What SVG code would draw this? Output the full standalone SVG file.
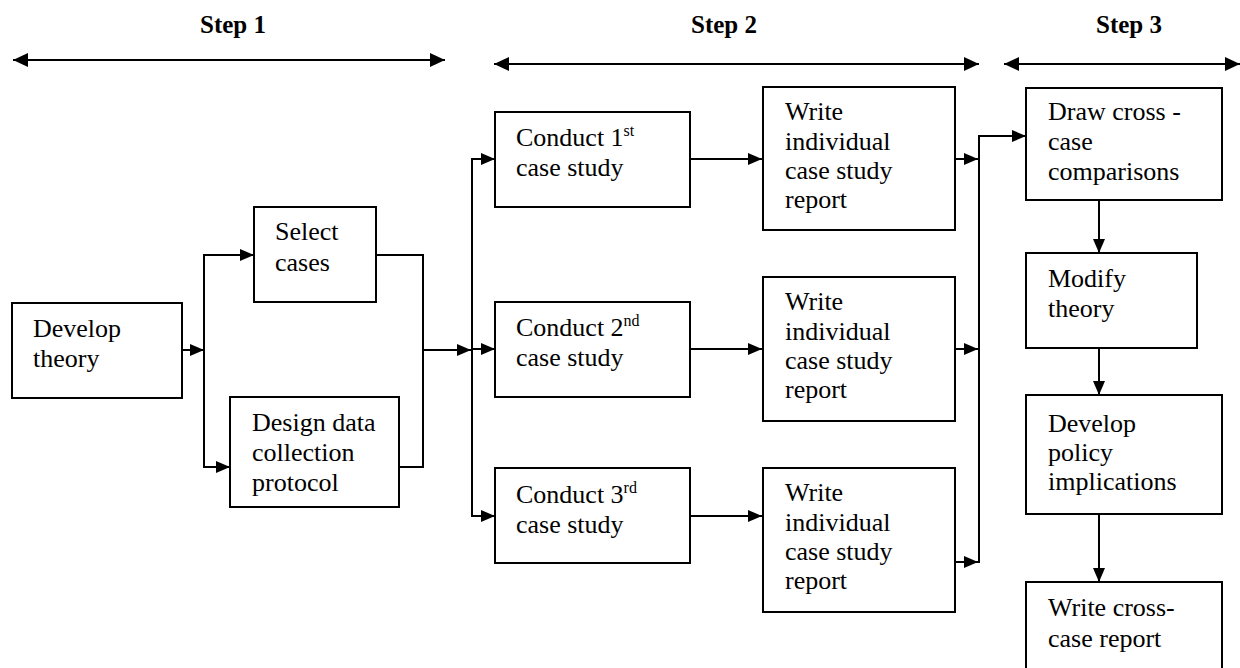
<svg xmlns="http://www.w3.org/2000/svg" width="1240" height="668" viewBox="0 0 1240 668">
<defs>
<marker id="ah" markerUnits="userSpaceOnUse" markerWidth="15" markerHeight="13" refX="14" refY="6" orient="auto-start-reverse">
<path d="M0,0 L14,6 L0,12 z" fill="#000"/>
</marker>
<marker id="ahs" markerUnits="userSpaceOnUse" markerWidth="16" markerHeight="15" refX="15" refY="7" orient="auto-start-reverse">
<path d="M0,0 L15,7 L0,14 z" fill="#000"/>
</marker>
</defs>
<style>
.box{fill:#fff;stroke:#000;stroke-width:2}
.t{font-family:"Liberation Serif","Times New Roman",serif;font-size:26px;fill:#000}
.h{font-family:"Liberation Serif","Times New Roman",serif;font-size:25px;font-weight:bold;fill:#000;text-anchor:middle}
.sup{font-size:16px}
.ln{fill:none;stroke:#000;stroke-width:2}
.ar{fill:none;stroke:#000;stroke-width:2;marker-end:url(#ah)}
.st{fill:none;stroke:#000;stroke-width:2;marker-start:url(#ahs);marker-end:url(#ahs)}
</style>
<rect width="1240" height="668" fill="#fff"/>
<g id="headers">
<text class="h" x="233" y="33">Step 1</text>
<text class="h" x="724" y="33">Step 2</text>
<text class="h" x="1129" y="33">Step 3</text>
<line class="st" x1="13" y1="60" x2="445" y2="60"/>
<line class="st" x1="494" y1="64" x2="979" y2="64"/>
<line class="st" x1="1004" y1="64" x2="1240" y2="64"/>
</g>
<g id="connectors">
<line class="ar" x1="182" y1="350" x2="204" y2="350"/>
<line class="ln" x1="204" y1="255" x2="204" y2="467"/>
<line class="ar" x1="203" y1="255" x2="254" y2="255"/>
<line class="ar" x1="203" y1="467" x2="230" y2="467"/>
<polyline class="ln" points="376,255 423,255 423,467 399,467"/>
<line class="ar" x1="423" y1="350" x2="471" y2="350"/>
<line class="ln" x1="472" y1="159" x2="472" y2="516"/>
<line class="ar" x1="471" y1="159" x2="495" y2="159"/>
<line class="ar" x1="471" y1="349" x2="495" y2="349"/>
<line class="ar" x1="471" y1="516" x2="495" y2="516"/>
<line class="ar" x1="690" y1="159" x2="762" y2="159"/>
<line class="ar" x1="690" y1="349" x2="762" y2="349"/>
<line class="ar" x1="690" y1="516" x2="762" y2="516"/>
<line class="ar" x1="955" y1="159" x2="978" y2="159"/>
<line class="ar" x1="955" y1="349" x2="978" y2="349"/>
<line class="ar" x1="955" y1="562" x2="978" y2="562"/>
<line class="ln" x1="979" y1="136" x2="979" y2="563"/>
<line class="ar" x1="978" y1="136" x2="1026" y2="136"/>
<line class="ar" x1="1099" y1="200" x2="1099" y2="253"/>
<line class="ar" x1="1099" y1="348" x2="1099" y2="395"/>
<line class="ar" x1="1099" y1="514" x2="1099" y2="582"/>
</g>
<g id="develop-theory">
<rect class="box" x="12" y="303" width="170" height="95"/>
<text class="t" x="33" y="337">Develop</text>
<text class="t" x="33" y="367">theory</text>
</g>
<g id="select-cases">
<rect class="box" x="254" y="207" width="122" height="95"/>
<text class="t" x="275" y="240">Select</text>
<text class="t" x="275" y="271">cases</text>
</g>
<g id="design-protocol">
<rect class="box" x="230" y="397" width="169" height="110"/>
<text class="t" x="252" y="431">Design data</text>
<text class="t" x="252" y="461">collection</text>
<text class="t" x="252" y="491">protocol</text>
</g>
<g id="conduct-1">
<rect class="box" x="495" y="112" width="195" height="95"/>
<text class="t" x="516" y="146">Conduct 1<tspan class="sup" dy="-10">st</tspan></text>
<text class="t" x="516" y="176">case study</text>
</g>
<g id="conduct-2">
<rect class="box" x="495" y="302" width="195" height="95"/>
<text class="t" x="516" y="336">Conduct 2<tspan class="sup" dy="-10">nd</tspan></text>
<text class="t" x="516" y="366">case study</text>
</g>
<g id="conduct-3">
<rect class="box" x="495" y="468" width="195" height="95"/>
<text class="t" x="516" y="503">Conduct 3<tspan class="sup" dy="-10">rd</tspan></text>
<text class="t" x="516" y="533">case study</text>
</g>
<g id="write-1">
<rect class="box" x="763" y="87" width="192" height="143"/>
<text class="t" x="785" y="120">Write</text>
<text class="t" x="785" y="150">individual</text>
<text class="t" x="785" y="179">case study</text>
<text class="t" x="785" y="208">report</text>
</g>
<g id="write-2">
<rect class="box" x="763" y="277" width="192" height="144"/>
<text class="t" x="785" y="310">Write</text>
<text class="t" x="785" y="340">individual</text>
<text class="t" x="785" y="369">case study</text>
<text class="t" x="785" y="398">report</text>
</g>
<g id="write-3">
<rect class="box" x="763" y="468" width="192" height="144"/>
<text class="t" x="785" y="501">Write</text>
<text class="t" x="785" y="531">individual</text>
<text class="t" x="785" y="560">case study</text>
<text class="t" x="785" y="589">report</text>
</g>
<g id="draw-cross">
<rect class="box" x="1026" y="88" width="196" height="112"/>
<text class="t" x="1048" y="120">Draw cross -</text>
<text class="t" x="1048" y="150">case</text>
<text class="t" x="1048" y="180">comparisons</text>
</g>
<g id="modify-theory">
<rect class="box" x="1026" y="253" width="171" height="95"/>
<text class="t" x="1048" y="287">Modify</text>
<text class="t" x="1048" y="317">theory</text>
</g>
<g id="develop-policy">
<rect class="box" x="1026" y="395" width="196" height="119"/>
<text class="t" x="1048" y="432">Develop</text>
<text class="t" x="1048" y="461">policy</text>
<text class="t" x="1048" y="490">implications</text>
</g>
<g id="write-cross">
<rect class="box" x="1026" y="582" width="196" height="100"/>
<text class="t" x="1048" y="616">Write cross-</text>
<text class="t" x="1048" y="647">case report</text>
</g>
</svg>
